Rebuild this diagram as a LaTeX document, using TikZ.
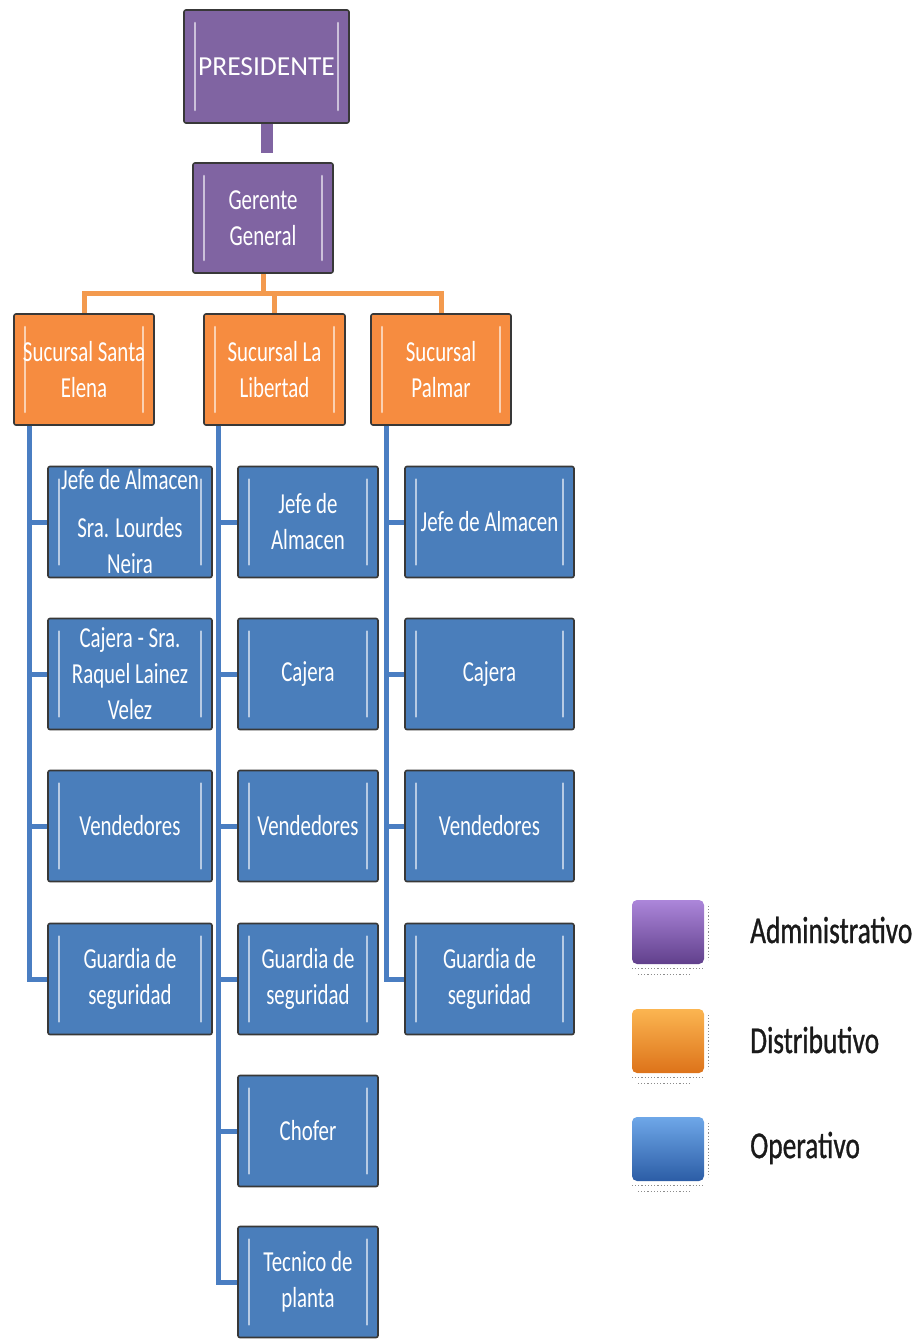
\documentclass[tikz,border=0pt]{standalone}
\usepackage{fontspec}
\setmainfont{Carlito}[FakeStretch=0.72]
\newfontfamily\presfont{Carlito}
\newfontfamily\legfont{Carlito}[FakeStretch=0.72, FakeBold=0.8]
\usetikzlibrary{calc}

\definecolor{admfill}{HTML}{8064A2}
\definecolor{disfill}{HTML}{F68C40}
\definecolor{opfill}{HTML}{4A7EBB}
\definecolor{disline}{HTML}{F39A4E}
\definecolor{opline}{HTML}{4A7EC2}
\definecolor{legtextcol}{HTML}{1A1A1A}

\tikzset{
  unitbox/.style={
    draw=black!78, line width=1.6pt, rounded corners=2pt, fill=#1,
    text=white, align=center, inner sep=0pt,
    font=\fontsize{29}{36}\selectfont,
    path picture={
      \draw[#1!40!white, line width=2.6pt, line cap=round]
        ([xshift=11pt,yshift=13pt]path picture bounding box.south west) --
        ([xshift=11pt,yshift=-13pt]path picture bounding box.north west);
      \draw[#1!40!white, line width=2.6pt, line cap=round]
        ([xshift=-11pt,yshift=13pt]path picture bounding box.south east) --
        ([xshift=-11pt,yshift=-13pt]path picture bounding box.north east);
    }},
  admbox/.style={unitbox=admfill},
  disbox/.style={unitbox=disfill, minimum width=140pt, minimum height=111pt},
  opbox/.style={unitbox=opfill, minimum height=111pt},
  col1/.style={opbox, minimum width=164pt},
  col2/.style={opbox, minimum width=140pt},
  col3/.style={opbox, minimum width=169pt},
  orangeline/.style={draw=disline, line width=5pt},
  blueline/.style={draw=opline, line width=5pt},
  legbox/.style={draw=none, rounded corners=5pt, minimum width=72pt, minimum height=64pt, inner sep=0pt},
  legdots/.style={draw=black!45, dotted, line width=1.2pt},
  legtext/.style={anchor=west, text=legtextcol, inner sep=0pt, font=\legfont\fontsize{38}{44}\selectfont},
}

\begin{document}
\begin{tikzpicture}[x=1pt, y=-1pt]
\useasboundingbox (0,0) rectangle (917,1341);

% top management
\node[admbox, minimum width=165pt, minimum height=113pt,
      font=\presfont\fontsize{27.5}{32}\selectfont] (pres) at (266.5,66.5) {PRESIDENTE};
\node[admbox, minimum width=140pt, minimum height=110pt] (ger) at (263,218) {Gerente\\General};

\coordinate (pj) at (266,153);
\draw[draw=admfill, line width=12pt] (pres.south) -- (pres.south |- pj);

% branches
\node[disbox] (s1) at (84,369.5)  {Sucursal Santa\\Elena};
\node[disbox, minimum width=141pt] (s2) at (274.5,369.5) {Sucursal La\\Libertad};
\node[disbox] (s3) at (441,369.5) {Sucursal\\Palmar};

\coordinate (bus) at (263,293);
\draw[orangeline] (ger.south) -- (bus);
\draw[orangeline] (bus) -| (s1.north);
\draw[orangeline] (bus) -| (s2.north);
\draw[orangeline] (bus) -| (s3.north);

% staff of Santa Elena
\node[col1] (c11) at (130,522) {Jefe de Almacen\\[12pt]Sra. Lourdes\\Neira};
\node[col1] (c12) at (130,674) {Cajera - Sra.\\Raquel Lainez\\Velez};
\node[col1] (c13) at (130,826) {Vendedores};
\node[col1] (c14) at (130,979) {Guardia de\\seguridad};

% staff of La Libertad
\node[col2] (c21) at (308,522)  {Jefe de\\Almacen};
\node[col2] (c22) at (308,674)  {Cajera};
\node[col2] (c23) at (308,826)  {Vendedores};
\node[col2] (c24) at (308,979)  {Guardia de\\seguridad};
\node[col2] (c25) at (308,1131) {Chofer};
\node[col2] (c26) at (308,1282) {Tecnico de\\planta};

% staff of Palmar
\node[col3] (c31) at (489.5,522) {Jefe de Almacen};
\node[col3] (c32) at (489.5,674) {Cajera};
\node[col3] (c33) at (489.5,826) {Vendedores};
\node[col3] (c34) at (489.5,979) {Guardia de\\seguridad};

% vertical trunks with branches
\coordinate (k1) at ($(s1.south west)+(16,0)$);
\coordinate (k2) at ($(s2.south west)+(15,0)$);
\coordinate (k3) at ($(s3.south west)+(16,0)$);
\foreach \i in {1,...,4} { \draw[blueline] (k1) |- (c1\i.west); }
\foreach \i in {1,...,6} { \draw[blueline] (k2) |- (c2\i.west); }
\foreach \i in {1,...,4} { \draw[blueline] (k3) |- (c3\i.west); }

% legend
\definecolor{admtop}{HTML}{AC86DA}\definecolor{admbot}{HTML}{61408C}
\definecolor{distop}{HTML}{FBB551}\definecolor{disbot}{HTML}{DD731A}
\definecolor{optop}{HTML}{6EA7E8}\definecolor{opbot}{HTML}{2C5DA6}
\node[legbox, top color=admtop, bottom color=admbot] (lg1) at (668,932) {};
\node[legbox, top color=distop, bottom color=disbot] (lg2) at (668,1041) {};
\node[legbox, top color=optop, bottom color=opbot] (lg3) at (668,1149) {};
\foreach \n in {lg1,lg2,lg3} {
  \draw[legdots] ([yshift=-4pt]\n.south west) -- ([yshift=-4pt]\n.south east);
  \draw[legdots] ([xshift=6pt,yshift=-10pt]\n.south west) -- ([xshift=-14pt,yshift=-10pt]\n.south east);
  \draw[legdots] ([xshift=4pt,yshift=-6pt]\n.north east) -- ([xshift=4pt,yshift=4pt]\n.south east);
}
\node[legtext] (lt1) at (750,930)  {Administrativo};
\node[legtext] (lt2) at (750,1040) {Distributivo};
\node[legtext] (lt3) at (750,1148) {Operativo};
\end{tikzpicture}
\end{document}
